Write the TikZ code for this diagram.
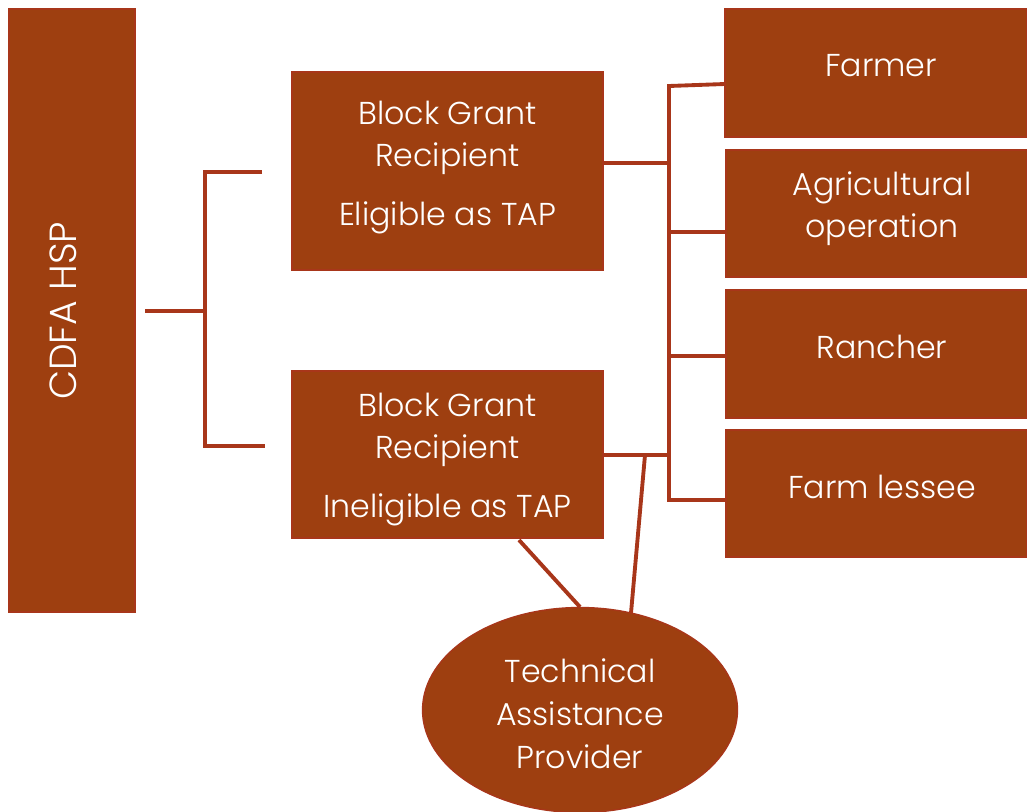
\documentclass[tikz,border=0pt]{standalone}
\usepackage{fontspec}
\IfFontExistsTF{Poppins Light}{\setmainfont{Poppins Light}}{\setmainfont{Poppins}}
\usetikzlibrary{shapes.geometric}
\definecolor{boxfill}{HTML}{9E3F10}
\definecolor{boxline}{HTML}{A8361A}
\begin{document}
\begin{tikzpicture}[x=0.02cm,y=-0.02cm,
  bx/.style={draw=boxline,line width=0.6pt,fill=boxfill},
  lbl/.style={text=white,font=\fontsize{18}{24}\selectfont,align=center,inner sep=0pt},
  conn/.style={draw=boxline,line width=2.2pt}]
\useasboundingbox (0,0) rectangle (1027,811);
% boxes
\path[bx] (9,9) rectangle (135,612);
\node[lbl,rotate=90,font=\fontsize{21.5}{26}\selectfont] (cdfa) at (63,311) {CDFA HSP};
\coordinate (cdfaR) at (145,311);
\path[bx] (292,72) rectangle (603,270);
\node[lbl] (bg1) at (447.5,167.5) {Block Grant\\Recipient\\[10pt]Eligible as TAP};
\path[bx] (292,371) rectangle (603,538);
\node[lbl] (bg2) at (447.5,459.5) {Block Grant\\Recipient\\[10pt]Ineligible as TAP};
\path[bx] (725,9) rectangle (1027,137);
\node[lbl] (farmer) at (881,66) {Farmer};
\path[bx] (726,150) rectangle (1027,277);
\node[lbl] (agri) at (882,209) {Agricultural\\operation};
\path[bx] (726,290) rectangle (1027,418);
\node[lbl] (rancher) at (882,347) {Rancher};
\path[bx] (726,430) rectangle (1027,557);
\node[lbl] (lessee) at (882,487) {Farm lessee};
\node[ellipse,draw=boxline,line width=0.8pt,fill=boxfill,minimum width=6.3cm,minimum height=4.1cm] (tap) at (580,710) {};
\node[lbl,font=\fontsize{18}{24.5}\selectfont] (taptext) at (580,714) {Technical\\Assistance\\Provider};
% connector coordinates
\coordinate (j1) at (205,311);
\coordinate (e1) at (262,172);
\coordinate (e2) at (265,446);
\coordinate (bg1R) at (603,163);
\coordinate (bg2R) at (603,455);
\coordinate (j2) at (669,163);
\coordinate (j3) at (669,455);
\coordinate (j4) at (645,455);
\coordinate (farmerL) at (725,84);
\coordinate (agriL) at (726,232);
\coordinate (rancherL) at (726,356);
\coordinate (lesseeL) at (726,500);
\coordinate (bg2B) at (519,540);
\coordinate (tapT1) at (580,607);
\coordinate (tapT2) at (631,613);
% connectors
\draw[conn] (cdfaR) -- (j1);
\draw[conn] (e1) -- (205,172) -- (205,446) -- (e2);
\draw[conn] (bg1R) -- (j2);
\draw[conn] (bg2R) -- (j3);
\draw[conn] (farmerL) -- (669,86) -- (669,500) -- (lesseeL);
\draw[conn] (669,232) -- (agriL);
\draw[conn] (669,356) -- (rancherL);
\draw[conn] (j4) -- (tapT2);
\draw[conn] (bg2B) -- (tapT1);
\end{tikzpicture}
\end{document}
